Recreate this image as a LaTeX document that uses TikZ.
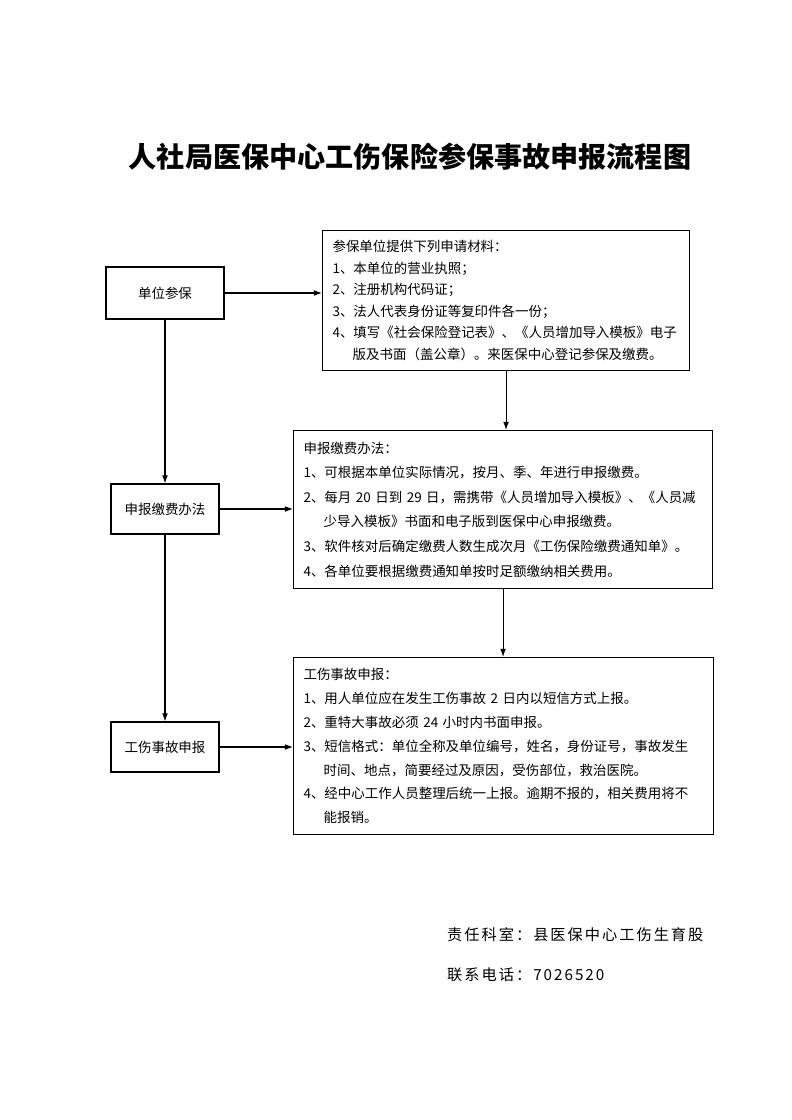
\documentclass[tikz,border=0pt]{standalone}
\usepackage{fontspec}
\setmainfont{Noto Sans CJK SC}
\newfontfamily\footfont[LetterSpace=13]{Noto Sans CJK SC}
\usetikzlibrary{arrows.meta}

\begin{document}
\begin{tikzpicture}[x=0.03cm,y=-0.03cm]
    \tikzset{stage/.style = {shape=rectangle,draw,line width=0.9pt,minimum width=3.24cm,minimum height=1.5cm,font=\fontsize{11.5}{14}\selectfont}}
    \tikzset{detail/.style = {shape=rectangle,draw,line width=0.9pt,anchor=north west,inner xsep=0.3cm,inner ysep=0pt,align=left}}
    \tikzset{flow/.style = {line width=0.9pt,-{Latex[length=7pt,width=5pt]}}}
    \tikzset{footnote/.style = {anchor=west,inner xsep=0pt,font=\footfont\fontsize{13}{16}\selectfont}}
    \useasboundingbox (0,0) rectangle (792,1120);
    \node[font=\bfseries\fontsize{24}{28}\selectfont] (title) at (410,157) {人社局医保中心工伤保险参保事故申报流程图};
    % left column
    \node[stage,minimum width=3.54cm,minimum height=1.56cm] (enrol) at (165,293) {单位参保};
    \node[stage] (pay) at (165,509) {申报缴费办法};
    \node[stage] (injury) at (165,747) {工伤事故申报};
    % right column
    \node[detail,text width=10.41cm,minimum height=4.2cm,font=\fontsize{11.5}{18.3}\selectfont] (materials) at (322,230)
      {参保单位提供下列申请材料：\\
       1、本单位的营业执照；\\
       2、注册机构代码证；\\
       3、法人代表身份证等复印件各一份；\\
       4、填写《社会保险登记表》、《人员增加导入模板》电子\\
       \hspace*{1.5em}版及书面（盖公章）。来医保中心登记参保及缴费。};
    \node[detail,text width=11.97cm,minimum height=4.74cm,font=\fontsize{11.5}{21}\selectfont] (payrules) at (293,430)
      {申报缴费办法：\\
       1、可根据本单位实际情况，按月、季、年进行申报缴费。\\
       2、每月 20 日到 29 日，需携带《人员增加导入模板》、《人员减\\
       \hspace*{1.5em}少导入模板》书面和电子版到医保中心申报缴费。\\
       3、软件核对后确定缴费人数生成次月《工伤保险缴费通知单》。\\
       4、各单位要根据缴费通知单按时足额缴纳相关费用。};
    \node[detail,text width=12.0cm,minimum height=5.31cm,font=\fontsize{11.5}{20.4}\selectfont] (report) at (293,657)
      {工伤事故申报：\\
       1、用人单位应在发生工伤事故 2 日内以短信方式上报。\\
       2、重特大事故必须 24 小时内书面申报。\\
       3、短信格式：单位全称及单位编号，姓名，身份证号，事故发生\\
       \hspace*{1.5em}时间、地点，简要经过及原因，受伤部位，救治医院。\\
       4、经中心工作人员整理后统一上报。逾期不报的，相关费用将不\\
       \hspace*{1.5em}能报销。};
    % connectors
    \draw[flow] (enrol.east) -- (enrol.east -| materials.west);
    \draw[flow] (enrol) -- (pay);
    \draw[flow] (pay) -- (injury);
    \draw[flow] (pay.east) -- (pay.east -| payrules.west);
    \draw[flow] (injury.east) -- (injury.east -| report.west);
    \draw[flow] (materials.south) -- (materials.south |- payrules.north);
    \draw[flow] (payrules.south) -- (payrules.south |- report.north);
    % footer
    \node[footnote] (office) at (447,935) {责任科室：县医保中心工伤生育股};
    \node[footnote] (phone) at (447,975) {联系电话：7026520};
\end{tikzpicture}
\end{document}
